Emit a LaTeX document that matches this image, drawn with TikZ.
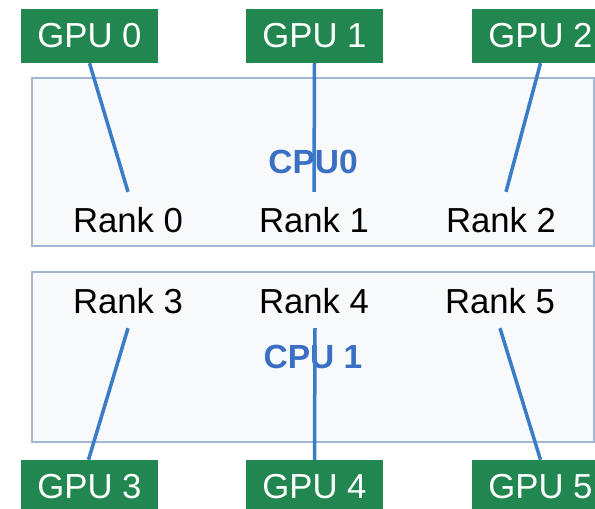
\documentclass[tikz,border=0pt]{standalone}
\usepackage{fontspec}
\setmainfont{Liberation Sans}
\definecolor{gpugreen}{RGB}{34,134,80}
\definecolor{linkblue}{RGB}{58,124,200}
\definecolor{cpublue}{RGB}{58,112,196}
\definecolor{boxedge}{RGB}{165,182,208}
\definecolor{boxfill}{RGB}{248,249,251}
\begin{document}
\begin{tikzpicture}[x=1pt,y=-1pt,
  gpubox/.style={fill=gpugreen,text=white,minimum width=137pt,minimum height=54pt,inner sep=0pt,
    font=\fontsize{34.7}{40}\selectfont},
  cpubox/.style={draw=boxedge,line width=2.5pt,fill=boxfill,minimum width=562pt,inner sep=0pt,
    text=cpublue,font=\fontsize{33.5}{40}\selectfont\bfseries},
  ranktop/.style={anchor=base,inner xsep=0pt,inner ysep=15pt,text height=25pt,text depth=0pt,
    font=\fontsize{34.7}{40}\selectfont},
  rankbot/.style={ranktop},
  link/.style={draw=linkblue,line width=3.5pt}]
\useasboundingbox (0,0) rectangle (595,509);
\fill[white] (0,0) rectangle (595,509);
\begin{scope}
\clip (0,0) rectangle (595,509);
% CPU boxes
\node[cpubox,minimum height=168pt] (cpu0) at (313,162) {CPU0};
\node[cpubox,minimum height=170pt] (cpu1) at (313,357) {CPU 1};
% GPUs
\node[gpubox] (g0) at (89.5,36) {GPU 0};
\node[gpubox] (g1) at (314.5,36) {GPU 1};
\node[gpubox] (g2) at (540.5,36) {GPU 2};
\node[gpubox] (g3) at (89.5,487) {GPU 3};
\node[gpubox] (g4) at (314.5,487) {GPU 4};
\node[gpubox] (g5) at (540.5,487) {GPU 5};
% Ranks
\node[ranktop] (r0) at (128,232) {Rank 0};
\node[ranktop] (r1) at (314,232) {Rank 1};
\node[ranktop] (r2) at (501,232) {Rank 2};
\node[rankbot] (r3) at (128,313) {Rank 3};
\node[rankbot] (r4) at (314,313) {Rank 4};
\node[rankbot] (r5) at (500,313) {Rank 5};
% links
\draw[link] (g0.south) -- (r0.north);
\draw[link] (g1.south) -- (r1.north);
\draw[link] (g2.south) -- ([xshift=5pt]r2.north);
\draw[link] ([xshift=-1pt]g3.north) -- (r3.south);
\draw[link] (g4.north) -- ([xshift=1pt]r4.south);
\draw[link] (g5.north) -- (r5.south);
\end{scope}
\end{tikzpicture}
\end{document}
